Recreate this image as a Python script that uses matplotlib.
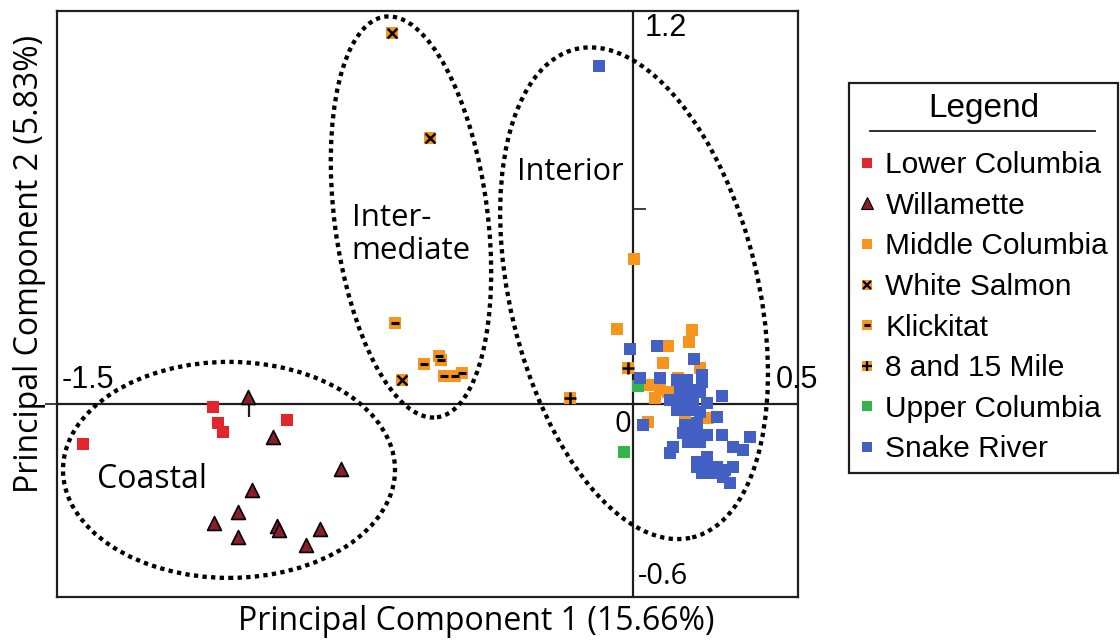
import matplotlib
matplotlib.use("Agg")
import matplotlib.pyplot as plt
from matplotlib.patches import Ellipse
from matplotlib.lines import Line2D
from matplotlib.legend_handler import HandlerTuple
from matplotlib.transforms import ScaledTranslation

# PCA scores (PC1, PC2)
lower_col_x = [-1.094, -1.081, -1.068, -0.901, -1.432]
lower_col_y = [-0.009, -0.058, -0.086, -0.049, -0.123]

willamette_x = [-1.003, -0.938, -0.760, -0.992, -1.029, -1.091, -1.029, -0.927, -0.922, -0.815, -0.852]
willamette_y = [0.021, -0.101, -0.199, -0.264, -0.331, -0.365, -0.408, -0.374, -0.387, -0.383, -0.433]

white_salmon_x = [-0.628, -0.529, -0.602]
white_salmon_y = [1.138, 0.816, 0.074]

klickitat_x = [-0.620, -0.544, -0.505, -0.500, -0.492, -0.464, -0.445]
klickitat_y = [0.248, 0.123, 0.147, 0.135, 0.086, 0.086, 0.095]

mile_x = [-0.164, -0.013]
mile_y = [0.018, 0.110]

upper_col_x = [0.013, -0.023]
upper_col_y = [0.055, -0.147]

middle_col_x = [0.003, -0.042, 0.154, 0.146, 0.091, 0.078, 0.044, 0.070, 0.091, 0.057,
                0.039, 0.135, 0.195, 0.193, 0.117, 0.174]
middle_col_y = [0.445, 0.230, 0.227, 0.190, 0.178, 0.126, 0.058, 0.043, 0.037, 0.018,
                -0.055, -0.049, -0.043, -0.184, 0.080, 0.110]

snake_x = [-0.089, -0.008, 0.063, 0.159, 0.018, 0.070, 0.115, 0.141, 0.180, 0.180,
           0.122, 0.148, 0.174, 0.232, 0.096, 0.128, 0.156, 0.193, 0.115, 0.143,
           0.174, 0.219, 0.026, 0.135, 0.167, 0.130, 0.161, 0.193, 0.232, 0.305,
           0.143, 0.174, 0.104, 0.260, 0.286, 0.096, 0.167, 0.193, 0.167, 0.193,
           0.219, 0.208, 0.240, 0.260, 0.234, 0.253, 0.180]
snake_y = [1.037, 0.169, 0.178, 0.138, 0.080, 0.080, 0.074, 0.074, 0.089, 0.067,
           0.043, 0.043, 0.037, 0.025, 0.012, 0.012, 0.006, 0.003, -0.018, -0.018,
           -0.025, -0.040, -0.064, -0.064, -0.058, -0.089, -0.086, -0.095, -0.095, -0.101,
           -0.117, -0.117, -0.132, -0.132, -0.141, -0.150, -0.178, -0.163, -0.193, -0.193,
           -0.193, -0.212, -0.202, -0.193, -0.224, -0.242, -0.212]

# group outlines: label, centre (data), width/height (inches), angle
groups = ["Coastal", "Intermediate", "Interior"]
group_centres = [(-1.052, -0.202), (-0.578, 0.574), (0.003, 0.340)]
group_sizes = [(3.32, 2.16), (1.53, 4.04), (2.48, 5.02)]
group_angles = [0, 7.4, 13.4]

RED = "#e3262d"
MAROON = "#8a1f2b"
ORANGE = "#f7941d"
GREEN = "#35b44a"
BLUE = "#4360c4"
INK = "#1e1e1e"

fig = plt.figure(figsize=(11.2, 6.42), dpi=100)
ax = fig.add_axes([57 / 1120, 1 - 597 / 642, 741 / 1120, 586 / 642])
ax.set_xlim(-1.5, 0.43)
ax.set_ylim(-0.592, 1.206)
ax.set_xticks([])
ax.set_yticks([])
for sp in ax.spines.values():
    sp.set_linewidth(1.6)
    sp.set_color(INK)

ax.axhline(0, color=INK, lw=1.6, zorder=1)
ax.axvline(0, color=INK, lw=1.6, zorder=1)
ax.plot([-1], [0], marker=3, ms=9, mew=1.6, color=INK, zorder=1)
ax.plot([0], [0.6], marker=1, ms=9, mew=1.2, color=INK, zorder=1)
ax.plot([-1.5], [0], marker=0, ms=9, mew=1.2, color=INK, clip_on=False)

# dotted group ellipses
for c, (w, h), a in zip(group_centres, group_sizes, group_angles):
    tr = fig.dpi_scale_trans + ScaledTranslation(c[0], c[1], ax.transData)
    e = Ellipse((0, 0), w, h, angle=a, transform=tr, fill=False,
                ec="black", lw=3.1, ls=(0, (1, 1)), zorder=2)
    e.set_capstyle("butt")
    ax.add_patch(e)

sq = dict(marker="s", s=84, linewidths=0, zorder=3)
ax.scatter(lower_col_x, lower_col_y, color=RED, **sq)
ax.scatter(middle_col_x, middle_col_y, color=ORANGE, **sq)
ax.scatter(white_salmon_x, white_salmon_y, color=ORANGE, **sq)
ax.scatter(white_salmon_x, white_salmon_y, marker="x", s=50, color="black", linewidths=1.8, zorder=4)
ax.scatter(klickitat_x, klickitat_y, color=ORANGE, **sq)
ax.scatter(klickitat_x, klickitat_y, marker="_", s=30, color="black", linewidths=2.2, zorder=4)
ax.scatter(mile_x, mile_y, color=ORANGE, **sq)
ax.scatter(mile_x, mile_y, marker="+", s=80, color="black", linewidths=1.8, zorder=4)
ax.scatter(upper_col_x, upper_col_y, color=GREEN, **sq)
ax.scatter(snake_x, snake_y, color=BLUE, **sq)
ax.scatter(willamette_x, willamette_y, marker="^", s=100, color=MAROON,
           edgecolors="black", linewidths=1.2, zorder=5)

# axis end labels
arial = ["Liberation Sans", "DejaVu Sans"]
humanist = ["Open Sans", "DejaVu Sans"]
ax.text(-1.487, 0.028, "-1.5", family=arial, fontsize=22, ha="left", va="bottom")
ax.text(0.482, 0.028, "0.5", family=arial, fontsize=22, ha="right", va="bottom", clip_on=False)
ax.text(0.031, 1.2, "1.2", family=arial, fontsize=22, ha="left", va="top")
ax.text(0.013, -0.574, "-0.6", family=humanist, fontsize=21, ha="left", va="bottom")
ax.text(-0.005, -0.018, "0", family=humanist, fontsize=21, ha="right", va="top")

# group labels
ax.text(-1.396, -0.23, "Coastal", family=humanist, fontsize=23, ha="left", va="center")
ax.text(-0.732, 0.52, "Inter-\nmediate", family=humanist, fontsize=22.5, ha="left",
        va="center", linespacing=1.15)
ax.text(-0.302, 0.713, "Interior", family=humanist, fontsize=22, ha="left", va="center")

fig.text(476 / 1120, 1 - 622 / 642, "Principal Component 1 (15.66%)", family=humanist,
         fontsize=23, ha="center", va="center")
fig.text(30 / 1120, 1 - 264 / 642, "Principal Component 2 (5.83%)", family=humanist,
         fontsize=23, ha="center", va="center", rotation=90)

# legend
def sqh(color):
    return Line2D([], [], ls="none", marker="s", ms=7, mew=0, color=color)

handles = [
    sqh(RED),
    Line2D([], [], ls="none", marker="^", ms=8, mfc=MAROON, mec="black", mew=0.8),
    sqh(ORANGE),
    (sqh(ORANGE), Line2D([], [], ls="none", marker="x", ms=6, mew=1.6, color="black")),
    (sqh(ORANGE), Line2D([], [], ls="none", marker="_", ms=4, mew=2.2, color="black")),
    (sqh(ORANGE), Line2D([], [], ls="none", marker="+", ms=7, mew=1.6, color="black")),
    sqh(GREEN),
    sqh(BLUE),
]
labels = ["Lower Columbia", "Willamette", "Middle Columbia", "White Salmon",
          "Klickitat", "8 and 15 Mile", "Upper Columbia", "Snake River"]
leg = fig.legend(handles, labels, loc="upper left", bbox_to_anchor=(849 / 1120, 1 - 83 / 642),
                 title="Legend", prop=dict(family=arial, size=21.5),
                 title_fontproperties=dict(family=arial, size=24),
                 handler_map={tuple: HandlerTuple(ndivide=1, pad=0)},
                 frameon=True, fancybox=False, edgecolor=INK, framealpha=1,
                 borderpad=0.32, handlelength=0.55, handletextpad=0.35,
                 labelspacing=0.42, borderaxespad=0)
leg.get_frame().set_linewidth(1.6)
leg._legend_box.sep = 20  # extra room under the underlined title
fig.add_artist(Line2D([870 / 1120, 1095 / 1120], [1 - 131 / 642, 1 - 131 / 642],
                      color=INK, lw=1.3, zorder=10))

fig.savefig("out.png", dpi=100)
